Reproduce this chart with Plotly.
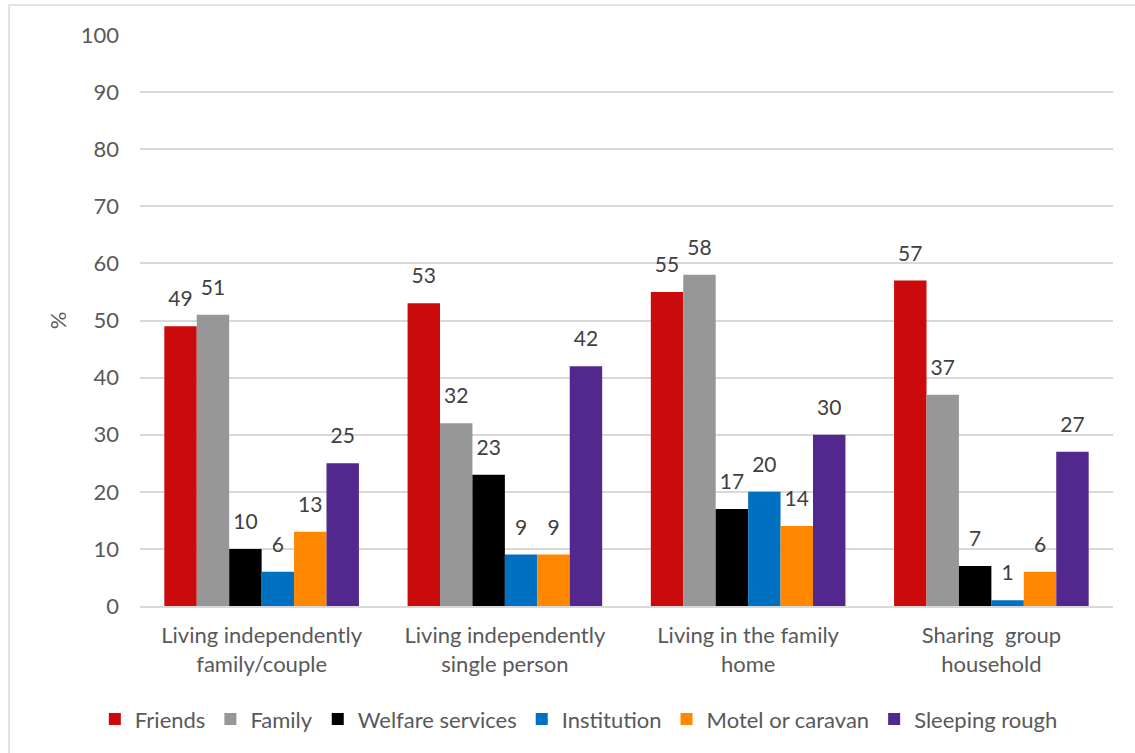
import plotly.graph_objects as go

categories = [
    "Living independently<br>family/couple",
    "Living independently<br>single person",
    "Living in the family<br>home",
    "Sharing  group<br>household",
]
series_names = ["Friends", "Family", "Welfare services", "Institution",
                "Motel or caravan", "Sleeping rough"]
friends = [49, 53, 55, 57]
family = [51, 32, 58, 37]
welfare_services = [10, 23, 17, 7]
institution = [6, 9, 20, 1]
motel_or_caravan = [13, 9, 14, 6]
sleeping_rough = [25, 42, 30, 27]
y_ticks = [0, 10, 20, 30, 40, 50, 60, 70, 80, 90, 100]

series_values = [friends, family, welfare_services, institution,
                 motel_or_caravan, sleeping_rough]
colors = ["#CB0A0C", "#979797", "#000000", "#0070C0", "#FF8800", "#52288E"]

FONT = "Lato, 'Open Sans', sans-serif"
GAP = 0.2

fig = go.Figure()
for name, vals, col in zip(series_names, series_values, colors):
    fig.add_trace(go.Bar(
        name=name,
        x=categories,
        y=vals,
        marker=dict(color=col, line=dict(width=0)),
        hoverinfo="x+y+name",
    ))

# value labels, grouped the same way as the bars and lifted above each bar
for name, vals in zip(series_names, series_values):
    fig.add_trace(go.Scatter(
        x=categories,
        y=vals,
        mode="markers+text",
        text=[str(v) for v in vals],
        textposition="top center",
        textfont=dict(family=FONT, size=21, color="#404040"),
        marker=dict(size=22, opacity=0),
        showlegend=False,
        hoverinfo="skip",
        cliponaxis=False,
        name=name,
    ))

fig.update_layout(
    width=1135,
    height=753,
    margin=dict(l=140, r=22, t=35, b=147),
    paper_bgcolor="white",
    plot_bgcolor="white",
    barmode="group",
    bargap=GAP,
    bargroupgap=0,
    scattermode="group",
    scattergap=GAP,
    font=dict(family=FONT, size=22, color="#595959"),
    showlegend=True,
    legend=dict(
        orientation="h",
        xref="container", yref="container",
        x=0.51, y=0.045,
        xanchor="center", yanchor="middle",
        font=dict(family=FONT, size=22, color="#595959"),
        itemwidth=30,
        traceorder="normal",
    ),
    xaxis=dict(
        showgrid=False,
        showline=True,
        linecolor="#d9d9d9",
        linewidth=1.5,
        ticks="",
        tickfont=dict(family=FONT, size=22, color="#595959"),
        ticklabelstandoff=9,
    ),
    yaxis=dict(
        range=[0, 100],
        tickvals=y_ticks,
        showgrid=True,
        gridcolor="#d9d9d9",
        gridwidth=1.5,
        zeroline=False,
        showline=False,
        ticks="",
        tickfont=dict(family=FONT, size=22, color="#595959"),
        ticklabelstandoff=20,
        title=dict(text="%", font=dict(family=FONT, size=22, color="#595959"),
                   standoff=8),
    ),
    shapes=[dict(
        type="rect", xref="paper", yref="paper",
        x0=(9 - 140) / 973, x1=1.05,
        y0=-0.3, y1=(606 - 5) / 571,
        line=dict(color="#d9d9d9", width=1.5),
        fillcolor="rgba(0,0,0,0)",
        layer="below",
    )],
)

fig.write_html("out.html")
